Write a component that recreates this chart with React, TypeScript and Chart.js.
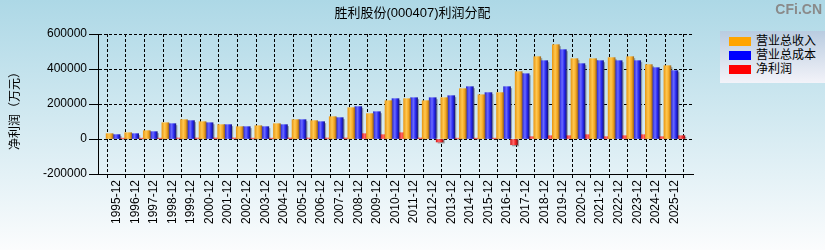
import React, { useEffect, useRef } from "react";
import { Chart, registerables } from "chart.js";

Chart.register(...registerables);

const TITLE = "胜利股份(000407)利润分配";
const Y_TITLE = "净利润（万元）";
const WATERMARK = "CFi.CN";
const SERIES_NAMES = ["营业总收入", "营业总成本", "净利润"];

const PERIODS = [
  "1995-12", "1996-12", "1997-12", "1998-12", "1999-12", "2000-12", "2001-12", "2002-12",
  "2003-12", "2004-12", "2005-12", "2006-12", "2007-12", "2008-12", "2009-12", "2010-12",
  "2011-12", "2012-12", "2013-12", "2014-12", "2015-12", "2016-12", "2017-12", "2018-12",
  "2019-12", "2020-12", "2021-12", "2022-12", "2023-12", "2024-12", "2025-12",
];

const REVENUE = [
  30500, 36000, 47600, 93000, 110500, 99000, 82000, 70500,
  76000, 87600, 110500, 105000, 127600, 179000, 145000, 219000,
  230500, 219000, 236000, 287600, 253000, 265000, 385000, 470500,
  539000, 459000, 459000, 465000, 470500, 425000, 419000,
];

const COST = [
  25000, 30500, 42000, 87600, 105000, 93000, 82000, 70500,
  70500, 82000, 110500, 99000, 122000, 185000, 156000, 230500,
  236000, 236000, 247600, 299000, 265000, 299000, 373000, 447600,
  510500, 430500, 447600, 447600, 447600, 407600, 390500,
];

const NET_PROFIT = [
  5000, 5000, 5000, 6000, 6000, 6000, 6000, 5000,
  5000, 6000, 6000, 6000, 6000, 30500, 24800, 36000,
  6000, -17000, 5000, 5000, 5000, -33000, 13300, 19000,
  19000, 24800, 13300, 19000, 24800, 13300, 19000,
];

const Y_MIN = -200000;
const Y_MAX = 600000;
const Y_STEP = 200000;

const COLORS = ["#FFA500", "#0000FF", "#FF0000"];
const GRADIENTS = [
  ["#eb9a18", "#ffc850", "#f4a51e", "#9c6a24"],
  ["#2424d8", "#6a6aff", "#2626f0", "#181884"],
  ["#d81c1c", "#ff6a6a", "#f02020", "#881616"],
];

const BAR_W = 7;
const FONT = '"Liberation Sans", Arial, "Noto Sans CJK SC", sans-serif';

const makeBg = (ds: number) => (c: any) => {
  const chart = c.chart;
  const xs = chart && chart.scales ? chart.scales.x : null;
  if (!xs || c.type !== "data") return COLORS[ds];
  const center = xs.getPixelForValue(c.dataIndex);
  if (!isFinite(center)) return COLORS[ds];
  const left = center - BAR_W * 1.5 + ds * BAR_W;
  const g = chart.ctx.createLinearGradient(left, 0, left + BAR_W, 0);
  const s = GRADIENTS[ds];
  g.addColorStop(0, s[0]);
  g.addColorStop(0.4, s[1]);
  g.addColorStop(0.72, s[2]);
  g.addColorStop(1, s[3]);
  return g;
};

const shadowPlugin = {
  id: "barShadow",
  beforeDatasetsDraw(chart: any) {
    const ctx = chart.ctx;
    ctx.save();
    ctx.fillStyle = "rgba(70,70,70,0.45)";
    chart.data.datasets.forEach((_: any, i: number) => {
      const meta = chart.getDatasetMeta(i);
      meta.data.forEach((el: any) => {
        const p = el.getProps(["x", "y", "base", "width"], true);
        if (!isFinite(p.x) || !isFinite(p.y) || !isFinite(p.base)) return;
        const left = p.x - p.width / 2 + 1.5;
        if (p.y < p.base) {
          ctx.fillRect(left, p.y + 1.5, p.width, p.base - p.y - 1.5);
        } else if (p.y > p.base) {
          ctx.fillRect(left, p.base, p.width, p.y - p.base + 1.5);
        }
      });
    });
    ctx.restore();
  },
};

const yTitlePlugin = {
  id: "yTitle",
  afterDraw(chart: any) {
    const ctx = chart.ctx;
    ctx.save();
    ctx.translate(14, 108);
    ctx.rotate(-Math.PI / 2);
    ctx.textAlign = "center";
    ctx.textBaseline = "middle";
    ctx.font = '12px "Noto Sans CJK SC", sans-serif';
    ctx.fillStyle = "#000";
    ctx.fillText(Y_TITLE, 0, 0);
    ctx.restore();
  },
};

export default function App() {
  const canvasRef = useRef<HTMLCanvasElement | null>(null);

  useEffect(() => {
    document.body.style.margin = "0";
    const canvas = canvasRef.current;
    if (!canvas) return;
    const labels = ["", ...PERIODS, ""];
    const pad = (arr: number[]) => [null, ...arr, null];
    const seriesData = [REVENUE, COST, NET_PROFIT];

    const chart = new Chart(canvas, {
      type: "bar",
      data: {
        labels,
        datasets: seriesData.map((d, i) => ({
          label: SERIES_NAMES[i],
          data: pad(d) as any,
          backgroundColor: makeBg(i) as any,
          borderWidth: 0,
          barThickness: BAR_W,
        })),
      },
      options: {
        animation: false,
        responsive: false,
        devicePixelRatio: 1,
        layout: { padding: { top: 34, right: 132, bottom: 0, left: 0 } },
        plugins: {
          legend: { display: false },
          title: { display: false },
          tooltip: { enabled: false },
        },
        scales: {
          x: {
            type: "category",
            offset: false,
            afterFit: (s: any) => {
              s.height = 76;
            },
            grid: {
              color: "#000",
              lineWidth: 1,
              tickLength: 4,
              tickColor: "#000",
            },
            border: { display: true, color: "#000", width: 1, dash: [3, 2] },
            ticks: {
              autoSkip: false,
              maxRotation: 90,
              minRotation: 90,
              padding: 2,
              color: "#000",
              font: { family: FONT, size: 12 },
            },
          },
          y: {
            min: Y_MIN,
            max: Y_MAX,
            afterFit: (s: any) => {
              s.width = 98;
            },
            grid: {
              color: "#000",
              lineWidth: 1,
              tickLength: 9,
              tickColor: "#000",
            },
            border: { display: true, color: "#000", width: 1, dash: [3, 2] },
            ticks: {
              stepSize: Y_STEP,
              padding: 2,
              color: "#000",
              font: { family: FONT, size: 12 },
              callback: (v: any) => String(v),
            },
          },
        },
      },
      plugins: [shadowPlugin, yTitlePlugin],
    });
    return () => chart.destroy();
  }, []);

  return (
    <div
      style={{
        position: "relative",
        width: 825,
        height: 250,
        overflow: "hidden",
        background: "linear-gradient(to bottom, #add8e6 0%, #fbfcfd 100%)",
        fontFamily: FONT,
      }}
    >
      <canvas ref={canvasRef} width={825} height={250} style={{ display: "block", width: 825, height: 250 }} />
      <div
        style={{
          position: "absolute",
          left: 0,
          top: 5,
          width: 825,
          textAlign: "center",
          fontSize: 13,
          lineHeight: "16px",
          color: "#000",
        }}
      >
        {TITLE}
      </div>
      <div
        style={{
          position: "absolute",
          right: 3,
          top: 0,
          fontSize: 14,
          fontWeight: "bold",
          lineHeight: "18px",
          color: "#8a8a8a",
          fontFamily: '"Liberation Sans", Arial, sans-serif',
        }}
      >
        {WATERMARK}
      </div>
      <div
        style={{
          position: "absolute",
          left: 720,
          top: 31,
          width: 105,
          height: 52,
          background: "linear-gradient(to bottom, #b9cce0 0%, #f3f3f9 100%)",
        }}
      >
        {SERIES_NAMES.map((name, i) => (
          <div key={name} style={{ position: "absolute", left: 0, top: 3 + i * 14, height: 14, width: 105 }}>
            <div
              style={{
                position: "absolute",
                left: 9,
                top: 3,
                width: 22,
                height: 9,
                background: COLORS[i],
              }}
            />
            <div
              style={{
                position: "absolute",
                left: 36,
                top: 0,
                fontSize: 12,
                lineHeight: "14px",
                color: "#000",
                whiteSpace: "nowrap",
              }}
            >
              {name}
            </div>
          </div>
        ))}
      </div>
    </div>
  );
}
